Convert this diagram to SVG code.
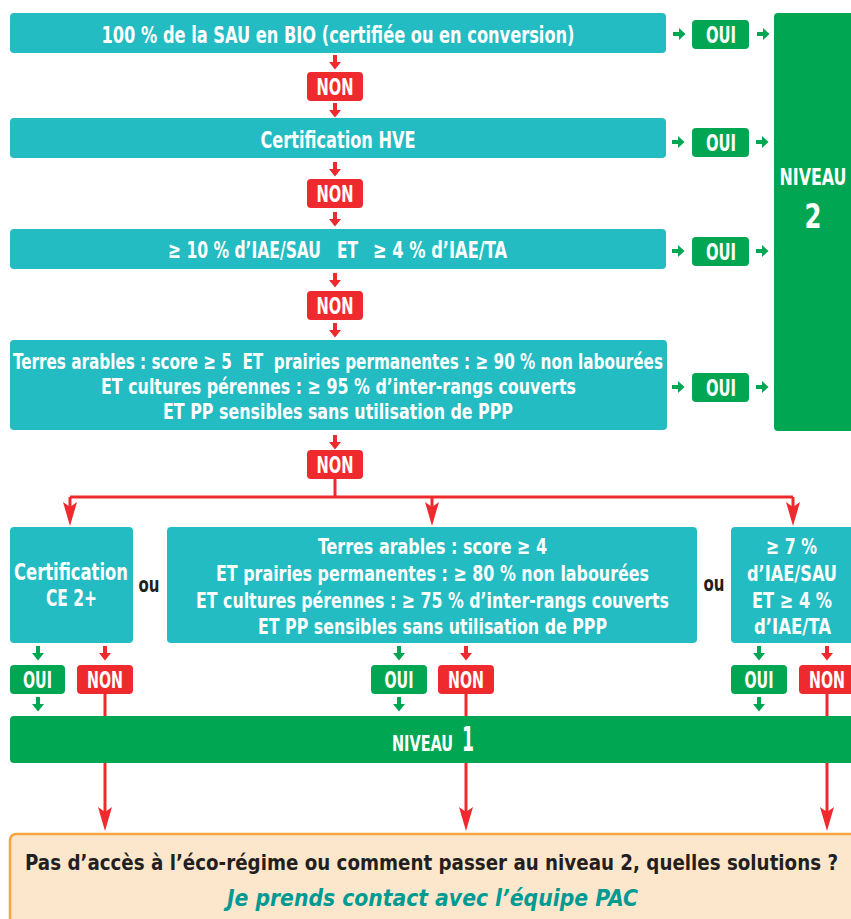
<svg xmlns="http://www.w3.org/2000/svg" xmlns:xlink="http://www.w3.org/1999/xlink" width="851" height="919" viewBox="0 0 851 919">
<style>
.t{font-family:"Liberation Sans Narrow","DejaVu Sans Condensed","Roboto Condensed","Liberation Sans",sans-serif;font-weight:700;font-stretch:condensed}
.pre{white-space:pre}
.w{fill:#ffffff}
.d{fill:#231F20}
.box{fill:#23BCC2}
.grn{fill:#00A651}
.red{fill:#EE2A2E}
.rl{stroke:#EE2A2E;stroke-width:3;fill:none}
.m{text-anchor:middle}
</style>
<defs>
<path id="ad" d="M-2,0 H2 V7 H6 L0,14.5 L-6,7 H-2 Z"/>
<path id="ar" d="M0,-2 H6 V-6 L12.5,0 L6,6 V2 H0 Z"/>
<path id="ah" d="M0,0 L-7,-24 L0,-19 L7,-24 Z"/>
</defs>
<rect width="851" height="919" fill="#ffffff"/>

<g id="connectors">
  <g class="red">
    <use xlink:href="#ad" x="335" y="55"/>
    <use xlink:href="#ad" x="335" y="103"/>
    <use xlink:href="#ad" x="335" y="162"/>
    <use xlink:href="#ad" x="335" y="212"/>
    <use xlink:href="#ad" x="335" y="273"/>
    <use xlink:href="#ad" x="335" y="323"/>
    <use xlink:href="#ad" x="335" y="435"/>
    <use xlink:href="#ad" x="105" y="646"/>
    <use xlink:href="#ad" x="466" y="646"/>
    <use xlink:href="#ad" x="827" y="646"/>
  </g>
  <g class="grn">
    <use xlink:href="#ar" x="673" y="34"/>
    <use xlink:href="#ar" x="757" y="34"/>
    <use xlink:href="#ar" x="672" y="142"/>
    <use xlink:href="#ar" x="756" y="142"/>
    <use xlink:href="#ar" x="672" y="251"/>
    <use xlink:href="#ar" x="756" y="251"/>
    <use xlink:href="#ar" x="672" y="387"/>
    <use xlink:href="#ar" x="756" y="387"/>
    <use xlink:href="#ad" x="38" y="646"/>
    <use xlink:href="#ad" x="399" y="646"/>
    <use xlink:href="#ad" x="759" y="646"/>
    <use xlink:href="#ad" x="38" y="697"/>
    <use xlink:href="#ad" x="399" y="697"/>
    <use xlink:href="#ad" x="759" y="697"/>
  </g>
  <path class="rl" d="M335,478 V497 M70,497 H793 M70,497 V510 M432,497 V510 M793,497 V510"/>
  <g class="red">
    <use xlink:href="#ah" x="70" y="526"/>
    <use xlink:href="#ah" x="432" y="526"/>
    <use xlink:href="#ah" x="793" y="526"/>
  </g>
  <path class="rl" d="M105,690 V814 M466,690 V814 M827,690 V814"/>
  <g class="red">
    <use xlink:href="#ah" x="105" y="831"/>
    <use xlink:href="#ah" x="466" y="831"/>
    <use xlink:href="#ah" x="827" y="831"/>
  </g>
</g>

<g id="q1">
  <rect class="box" x="10" y="13" width="656" height="40" rx="4"/>
  <text class="t w m" x="338" y="43" font-size="23" textLength="473" lengthAdjust="spacingAndGlyphs">100 % de la SAU en BIO (certifiée ou en conversion)</text>
</g>
<g id="q2">
  <rect class="box" x="10" y="118" width="656" height="40" rx="4"/>
  <text class="t w m" x="338" y="148" font-size="23" textLength="155" lengthAdjust="spacingAndGlyphs">Certification HVE</text>
</g>
<g id="q3">
  <rect class="box" x="10" y="229" width="656" height="40" rx="4"/>
  <text class="t w" y="258" font-size="23"><tspan x="168" textLength="153" lengthAdjust="spacingAndGlyphs">≥ 10 % d’IAE/SAU</tspan><tspan x="337" textLength="21" lengthAdjust="spacingAndGlyphs">ET</tspan><tspan x="373" textLength="134" lengthAdjust="spacingAndGlyphs">≥ 4 % d’IAE/TA</tspan></text>
</g>
<g id="q4">
  <rect class="box" x="10" y="340" width="657" height="90" rx="4"/>
  <text class="t w m pre" x="338" y="369" font-size="22" textLength="650" lengthAdjust="spacingAndGlyphs">Terres arables : score ≥ 5  ET  prairies permanentes : ≥ 90 % non labourées</text>
  <text class="t w m" x="338.5" y="394" font-size="22" textLength="475" lengthAdjust="spacingAndGlyphs">ET cultures pérennes : ≥ 95 % d’inter-rangs couverts</text>
  <text class="t w m" x="338" y="419" font-size="22" textLength="350" lengthAdjust="spacingAndGlyphs">ET PP sensibles sans utilisation de PPP</text>
</g>

<g id="non1"><rect class="red" x="307" y="72" width="56" height="29" rx="4"/><text class="t w m" x="335" y="95" font-size="23" textLength="37" lengthAdjust="spacingAndGlyphs">NON</text></g>
<g id="non2"><rect class="red" x="307" y="179" width="56" height="29" rx="4"/><text class="t w m" x="335" y="202" font-size="23" textLength="37" lengthAdjust="spacingAndGlyphs">NON</text></g>
<g id="non3"><rect class="red" x="307" y="291" width="56" height="29" rx="4"/><text class="t w m" x="335" y="314" font-size="23" textLength="37" lengthAdjust="spacingAndGlyphs">NON</text></g>
<g id="non4"><rect class="red" x="307" y="450" width="56" height="29" rx="4"/><text class="t w m" x="335" y="473" font-size="23" textLength="37" lengthAdjust="spacingAndGlyphs">NON</text></g>

<g id="oui1"><rect class="grn" x="692" y="20" width="57" height="29" rx="4"/><text class="t w m" x="721" y="43" font-size="23" textLength="30" lengthAdjust="spacingAndGlyphs">OUI</text></g>
<g id="oui2"><rect class="grn" x="692" y="128" width="57" height="29" rx="4"/><text class="t w m" x="721" y="151" font-size="23" textLength="30" lengthAdjust="spacingAndGlyphs">OUI</text></g>
<g id="oui3"><rect class="grn" x="692" y="237" width="57" height="29" rx="4"/><text class="t w m" x="721" y="260" font-size="23" textLength="30" lengthAdjust="spacingAndGlyphs">OUI</text></g>
<g id="oui4"><rect class="grn" x="692" y="373" width="57" height="29" rx="4"/><text class="t w m" x="721" y="396" font-size="23" textLength="30" lengthAdjust="spacingAndGlyphs">OUI</text></g>

<g id="niveau2">
  <rect class="grn" x="774" y="13" width="90" height="418" rx="4"/>
  <text class="t w m" x="813" y="185" font-size="23" textLength="67" lengthAdjust="spacingAndGlyphs">NIVEAU</text>
  <text class="t w m" x="813" y="228" font-size="34" textLength="17" lengthAdjust="spacingAndGlyphs">2</text>
</g>

<g id="c1">
  <rect class="box" x="10" y="527" width="123" height="116" rx="4"/>
  <text class="t w m" x="71" y="580" font-size="23" textLength="114" lengthAdjust="spacingAndGlyphs">Certification</text>
  <text class="t w m" x="71.5" y="606" font-size="23" textLength="51" lengthAdjust="spacingAndGlyphs">CE 2+</text>
</g>
<g id="ou1"><text class="t d m" x="149" y="592" font-size="22" textLength="21" lengthAdjust="spacingAndGlyphs">ou</text></g>
<g id="c2">
  <rect class="box" x="167" y="527" width="530" height="116" rx="4"/>
  <text class="t w m" x="432.5" y="554" font-size="22" textLength="229" lengthAdjust="spacingAndGlyphs">Terres arables : score ≥ 4</text>
  <text class="t w m" x="432.5" y="581" font-size="22" textLength="433" lengthAdjust="spacingAndGlyphs">ET prairies permanentes : ≥ 80 % non labourées</text>
  <text class="t w m" x="432.5" y="608" font-size="22" textLength="473" lengthAdjust="spacingAndGlyphs">ET cultures pérennes : ≥ 75 % d’inter-rangs couverts</text>
  <text class="t w m" x="432.5" y="634" font-size="22" textLength="349" lengthAdjust="spacingAndGlyphs">ET PP sensibles sans utilisation de PPP</text>
</g>
<g id="ou2"><text class="t d m" x="714" y="591" font-size="22" textLength="21" lengthAdjust="spacingAndGlyphs">ou</text></g>
<g id="c3">
  <rect class="box" x="731" y="527" width="130" height="116" rx="4"/>
  <text class="t w m" x="791.5" y="554" font-size="22" textLength="51" lengthAdjust="spacingAndGlyphs">≥ 7 %</text>
  <text class="t w m" x="792" y="581" font-size="22" textLength="90" lengthAdjust="spacingAndGlyphs">d’IAE/SAU</text>
  <text class="t w m" x="792" y="608" font-size="22" textLength="80" lengthAdjust="spacingAndGlyphs">ET ≥ 4 %</text>
  <text class="t w m" x="792.5" y="634" font-size="22" textLength="77" lengthAdjust="spacingAndGlyphs">d’IAE/TA</text>
</g>

<g id="r1oui"><rect class="grn" x="10" y="665" width="55" height="29" rx="4"/><text class="t w m" x="37.5" y="688" font-size="23" textLength="29" lengthAdjust="spacingAndGlyphs">OUI</text></g>
<g id="r1non"><rect class="red" x="77" y="665" width="56" height="29" rx="4"/><text class="t w m" x="105" y="688" font-size="23" textLength="36" lengthAdjust="spacingAndGlyphs">NON</text></g>
<g id="r2oui"><rect class="grn" x="371" y="665" width="56" height="29" rx="4"/><text class="t w m" x="399" y="688" font-size="23" textLength="29" lengthAdjust="spacingAndGlyphs">OUI</text></g>
<g id="r2non"><rect class="red" x="438" y="665" width="56" height="29" rx="4"/><text class="t w m" x="466" y="688" font-size="23" textLength="36" lengthAdjust="spacingAndGlyphs">NON</text></g>
<g id="r3oui"><rect class="grn" x="731" y="665" width="56" height="29" rx="4"/><text class="t w m" x="759" y="688" font-size="23" textLength="29" lengthAdjust="spacingAndGlyphs">OUI</text></g>
<g id="r3non"><rect class="red" x="799" y="665" width="60" height="29" rx="4"/><text class="t w m" x="827" y="688" font-size="23" textLength="36" lengthAdjust="spacingAndGlyphs">NON</text></g>

<g id="niveau1">
  <rect class="grn" x="10" y="716" width="850" height="47" rx="4"/>
  <text class="t w" x="392" y="751" font-size="21" textLength="61" lengthAdjust="spacingAndGlyphs">NIVEAU</text>
  <text class="t w" x="462" y="751" font-size="33" textLength="12" lengthAdjust="spacingAndGlyphs">1</text>
</g>

<g id="solutions">
  <rect x="10" y="834" width="850" height="100" rx="6" fill="#FDE7CC" stroke="#F7A541" stroke-width="2.5"/>
  <text class="t d m" x="431.5" y="870" font-size="22" textLength="813" lengthAdjust="spacingAndGlyphs">Pas d’accès à l’éco-régime ou comment passer au niveau 2, quelles solutions ?</text>
  <text class="t m" x="432.5" y="906" font-size="23" font-style="italic" fill="#009A93" textLength="411" lengthAdjust="spacingAndGlyphs">Je prends contact avec l’équipe PAC</text>
</g>
</svg>
